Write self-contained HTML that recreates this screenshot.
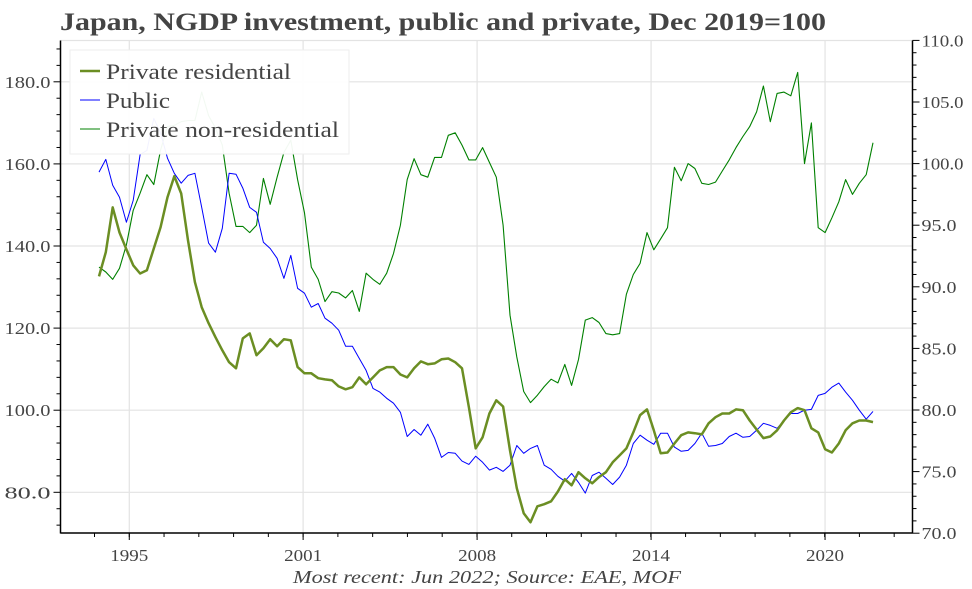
<!DOCTYPE html>
<html><head><meta charset="utf-8"><style>
html,body{margin:0;padding:0;background:#fff;}
svg{display:block;font-family:"Liberation Serif",serif;}
</style></head><body>
<svg id="chart" width="972" height="589" viewBox="0 0 972 589" xmlns="http://www.w3.org/2000/svg">
<text x="60" y="30" font-size="25" font-weight="bold" fill="#444" textLength="766" lengthAdjust="spacingAndGlyphs">Japan, NGDP investment, public and private, Dec 2019=100</text>
<g id="grid"></g><g id="axes"></g><g id="series"></g>
<g id="legend">
<rect x="70" y="50" width="279" height="104" fill="#ffffff" style="fill:#ffffff;fill-opacity:0.95" stroke="#eee"/>
<g><line x1="80" x2="100" y1="71" y2="71" stroke="#6b8e23" stroke-width="2.5"/><text x="106" y="79" font-size="22" fill="#444" textLength="185" lengthAdjust="spacingAndGlyphs">Private residential</text></g>
<g><line x1="80" x2="100" y1="100" y2="100" stroke="#0000ff" stroke-width="1"/><text x="106" y="108" font-size="22" fill="#444" textLength="64" lengthAdjust="spacingAndGlyphs">Public</text></g>
<g><line x1="80" x2="100" y1="129" y2="129" stroke="#008000" stroke-width="1"/><text x="106" y="137" font-size="22" fill="#444" textLength="233" lengthAdjust="spacingAndGlyphs">Private non-residential</text></g>
</g>
<text x="293" y="583" font-size="18" font-style="italic" fill="#444" textLength="388" lengthAdjust="spacingAndGlyphs">Most recent: Jun 2022; Source: EAE, MOF</text>
</svg>
<script>
const residential = [132.6,138.5,149.4,143.3,139.2,135.3,133.3,134.1,139.4,144.6,151.9,157.0,152.8,141.4,131.2,125.1,121.2,117.8,114.6,111.7,110.2,117.5,118.7,113.4,115.1,117.3,115.6,117.3,117.0,110.5,109.0,109.0,107.8,107.5,107.3,105.8,105.1,105.6,108.0,106.3,108.0,109.7,110.5,110.5,108.7,108.0,110.2,111.9,111.2,111.4,112.4,112.6,111.7,110.2,100.7,90.7,93.4,99.2,102.4,100.9,90.2,81.0,74.9,72.7,76.6,77.1,77.8,80.2,83.2,81.7,84.9,83.4,82.2,83.7,84.9,87.3,89.0,90.7,94.6,98.8,100.2,95.1,89.5,89.7,91.9,93.9,94.6,94.4,94.1,96.8,98.3,99.2,99.2,100.2,100.0,97.5,95.3,93.2,93.6,95.1,97.5,99.5,100.5,100.0,95.6,94.6,90.5,89.7,91.9,95.1,96.8,97.5,97.5,97.1];
const publicInv = [158.0,161.1,154.8,151.9,145.8,151.1,162.3,163.3,171.1,167.5,161.4,157.7,155.3,157.2,157.7,149.4,140.7,138.5,144.3,157.7,157.5,154.1,149.4,148.2,140.9,139.4,137.0,132.1,137.7,129.7,128.5,125.1,126.0,122.4,121.2,119.5,115.6,115.6,112.6,109.7,105.3,104.4,102.9,101.7,99.5,93.6,95.3,93.9,96.6,93.2,88.5,89.7,89.5,87.6,86.8,88.8,87.3,85.4,86.1,85.1,86.6,91.4,89.5,90.7,91.4,86.6,85.6,83.9,82.7,84.6,82.4,79.8,84.1,84.9,83.4,81.9,83.7,86.6,91.9,93.9,92.7,91.7,94.4,94.4,91.0,90.0,90.2,91.9,94.4,91.2,91.4,91.9,93.6,94.4,93.4,93.6,95.1,96.8,96.3,95.6,97.5,99.2,99.2,100.0,100.2,103.6,104.1,105.6,106.6,104.4,102.4,100.0,97.8,99.7];
const nonResidential = [91.6,91.2,90.6,91.5,93.4,96.2,97.6,99.1,98.3,101.1,103.0,103.1,103.4,103.5,103.5,105.8,103.9,102.9,101.5,97.6,94.9,94.9,94.4,95.0,98.8,96.7,98.9,100.9,101.9,98.7,96.0,91.6,90.6,88.8,89.6,89.5,89.1,89.7,88.0,91.1,90.6,90.2,91.1,92.7,95.0,98.7,100.4,99.1,98.9,100.5,100.5,102.3,102.5,101.5,100.3,100.3,101.3,100.1,98.9,95.0,87.7,84.3,81.5,80.6,81.2,81.9,82.5,82.2,83.7,82.0,84.1,87.3,87.5,87.1,86.2,86.1,86.2,89.4,91.0,91.9,94.4,93.0,93.9,94.8,99.7,98.6,100.0,99.6,98.4,98.3,98.5,99.4,100.3,101.3,102.2,103.0,104.2,106.3,103.4,105.7,105.8,105.5,107.4,100.0,103.3,94.8,94.4,95.6,96.9,98.7,97.5,98.4,99.1,101.7];
const xTickLabels = ["1995","2001","2008","2014","2020"];
const xTickIndex = [4.42,29.8,55.2,80.6,106.0];
const leftTicks = [80,100,120,140,160,180];
const rightTicks = [70,75,80,85,90,95,100,105,110];

const NS="http://www.w3.org/2000/svg";
const X0=60.5,X1=912.5,YB=533,YT=40.5;
const n=residential.length;
function xs(i){return 99+i*(873-99)/(n-1);}
function yl(v){return 492.3-(v-80)*4.105;}
function yr(v){return 410-(v-80)*12.32;}
function mk(tag,attrs,parent){const e=document.createElementNS(NS,tag);for(const k in attrs)e.setAttribute(k,attrs[k]);parent.appendChild(e);return e;}
const grid=document.getElementById('grid'),axes=document.getElementById('axes'),ser=document.getElementById('series');

leftTicks.forEach(v=>{
  const g=mk('line',{x1:X0,x2:X1,y1:yl(v),y2:yl(v),stroke:'#e3e3e3','stroke-width':1.2},grid);
  
  
  mk('line',{x1:X0-7,x2:X0,y1:yl(v),y2:yl(v),stroke:'#000'},axes);
  const t=mk('text',{x:X0-10,y:yl(v)+6,'font-size':17,fill:'#444','text-anchor':'end',textLength:46,lengthAdjust:'spacingAndGlyphs'},axes);
  t.textContent=v.toFixed(1);
  
  
});
mk('line',{x1:X0,x2:X1,y1:YT,y2:YT,stroke:'#e3e3e3','stroke-width':1.2},grid);
for(let v=72;v<190;v+=4){if(v%20===0)continue;const y=yl(v);if(y<YT||y>YB)continue;mk('line',{x1:X0-4,x2:X0,y1:y,y2:y,stroke:'#000'},axes);}
rightTicks.forEach(v=>{
  mk('line',{x1:X1,x2:X1+7,y1:yr(v),y2:yr(v),stroke:'#000'},axes);
  const t=mk('text',{x:X1+9,y:yr(v)+6,'font-size':17,fill:'#444',textLength:v>=100?42:35,lengthAdjust:'spacingAndGlyphs'},axes);
  t.textContent=v.toFixed(1);
  
  
});
for(let v=71;v<110;v++){if(v%5===0)continue;mk('line',{x1:X1,x2:X1+4,y1:yr(v),y2:yr(v),stroke:'#000'},axes);}
xTickIndex.forEach((ix,k)=>{
  const x=xs(ix);
  const g=mk('line',{x1:x,x2:x,y1:YT,y2:YB,stroke:'#e3e3e3','stroke-width':1.2},grid);
  
  
  mk('line',{x1:x,x2:x,y1:YB,y2:YB+7,stroke:'#000'},axes);
  const t=mk('text',{x:x-19,y:YB+28,'font-size':17,fill:'#444',textLength:38,lengthAdjust:'spacingAndGlyphs'},axes);
  t.textContent=xTickLabels[k];
  
  
});
const minorStep=(xs(xTickIndex[1])-xs(xTickIndex[0]))/5;
for(let x=xs(xTickIndex[0])-minorStep;x<X1;x+=minorStep){if(x<X0)continue;mk('line',{x1:x,x2:x,y1:YB,y2:YB+4,stroke:'#000'},axes);}
mk('line',{x1:X0,x2:X0,y1:YT,y2:YB+0.5,stroke:'#000','stroke-width':1.5},axes);
mk('line',{x1:X1,x2:X1,y1:YT,y2:YB+0.5,stroke:'#000','stroke-width':1.5},axes);
mk('line',{x1:X0,x2:X1,y1:YB,y2:YB,stroke:'#000','stroke-width':1.5},axes);

function path(arr,yf,color,w,name){
  const d=arr.map((v,i)=>(i?'L':'M')+xs(i).toFixed(1)+','+yf(v).toFixed(1)).join('');
  const p=mk('path',{d:d,fill:'none',stroke:color,'stroke-width':w,'stroke-linejoin':'round'},ser);
  
  
}
path(nonResidential,yr,'#008000',1.1,'line-private-non-residential');
path(publicInv,yl,'#0000ff',1,'line-public');
path(residential,yl,'#6b8e23',2.5,'line-private-residential');
document.getElementById('chart').appendChild(document.getElementById('legend'));
</script>
</body></html>
